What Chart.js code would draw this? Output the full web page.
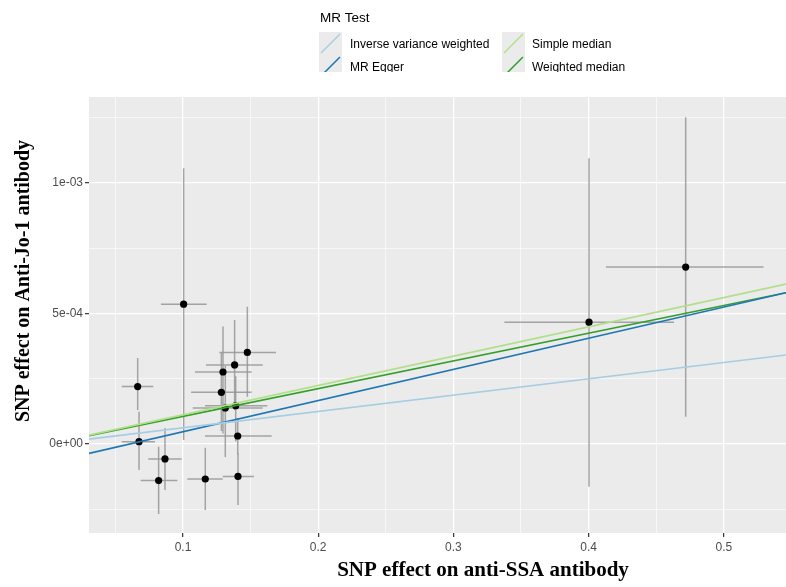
<!DOCTYPE html>
<html>
<head>
<meta charset="utf-8">
<script src="https://cdn.jsdelivr.net/npm/chart.js@4.4.1/dist/chart.umd.min.js"></script>
<style>
  html, body { margin: 0; padding: 0; background: #fff; }
  #wrap { width: 786px; height: 587px; }
</style>
</head>
<body>
<div id="wrap"><canvas id="mr" width="786" height="587"></canvas></div>
<script>
// SNP estimates (x = anti-SSA, y = Anti-Jo-1)
const snpX   = [0.0665, 0.0675, 0.0867, 0.0820, 0.1005, 0.1165, 0.1407, 0.1405, 0.1390, 0.1313, 0.1284, 0.1296, 0.1382, 0.1476, 0.4003, 0.4718];
const snpY   = [2.20e-4, 0.9e-5, -5.7e-5, -1.40e-4, 5.36e-4, -1.34e-4, -1.24e-4, 3.07e-5, 1.47e-4, 1.38e-4, 1.98e-4, 2.76e-4, 3.03e-4, 3.51e-4, 4.67e-4, 6.78e-4];
const snpXlo = [0.0547, 0.0547, 0.0743, 0.0687, 0.0837, 0.1032, 0.1294, 0.1163, 0.1163, 0.1072, 0.1060, 0.1089, 0.1170, 0.1269, 0.3377, 0.4128];
const snpXhi = [0.0780, 0.0793, 0.0990, 0.0958, 0.1175, 0.1294, 0.1525, 0.1656, 0.1624, 0.1590, 0.1508, 0.1508, 0.1590, 0.1688, 0.4632, 0.5294];
const snpYlo = [1.30e-4, -1.00e-4, -1.76e-4, -2.68e-4, 1.5e-5, -2.53e-4, -2.34e-4, -4.0e-5, 1.0e-5, -5.0e-5, 5.0e-5, 4.0e-5, 1.3e-4, 1.81e-4, -1.64e-4, 1.05e-4];
const snpYhi = [3.30e-4, 1.24e-4, 6.1e-5, -1.0e-5, 1.057e-3, -1.4e-5, -3.5e-5, 1.0e-4, 2.6e-4, 3.0e-4, 3.5e-4, 4.5e-4, 4.75e-4, 5.26e-4, 1.095e-3, 1.252e-3];

// MR fits: intercept + slope
const methods    = ["Inverse variance weighted", "MR Egger", "Simple median", "Weighted median"];
const intercepts = [0, -7.2e-5, 0, 0];
const slopes     = [6.25e-4, 1.194e-3, 1.123e-3, 1.062e-3];
const colors     = ["#A6CEE3", "#1F78B4", "#B2DF8A", "#33A02C"];

const xTicks = [0.05, 0.1, 0.15, 0.2, 0.25, 0.3, 0.35, 0.4, 0.45, 0.5];
const xMajor = [0.1, 0.2, 0.3, 0.4, 0.5];
const yTicks = [-2.5e-4, 0, 2.5e-4, 5e-4, 7.5e-4, 1e-3, 1.25e-3];
const yLabels = { "0": "0e+00", "0.0005": "5e-04", "0.001": "1e-03" };

const X_MIN = 0.0305, X_MAX = 0.546;
const Y_MIN = -3.41e-4, Y_MAX = 1.33e-3;

function isMajorX(v) { return xMajor.some(function (m) { return Math.abs(m - v) < 1e-9; }); }
function yLabel(v) {
    const k = String(Math.round(v * 1e6) / 1e6);
    return yLabels[k] || "";
}

const panelBg = {
    id: "panelBg",
    beforeDraw: function (chart) {
        const a = chart.chartArea, ctx = chart.ctx;
        ctx.save();
        ctx.fillStyle = "#EBEBEB";
        ctx.fillRect(a.left, a.top, a.right - a.left, a.bottom - a.top);
        ctx.restore();
    }
};

const errorBars = {
    id: "errorBars",
    beforeDatasetsDraw: function (chart) {
        const xs = chart.scales.x, ys = chart.scales.y, a = chart.chartArea, ctx = chart.ctx;
        ctx.save();
        ctx.beginPath();
        ctx.rect(a.left, a.top, a.right - a.left, a.bottom - a.top);
        ctx.clip();
        ctx.strokeStyle = "rgba(150,150,150,0.85)";
        ctx.lineWidth = 1.5;
        for (let i = 0; i < snpX.length; i++) {
            const px = xs.getPixelForValue(snpX[i]);
            const py = ys.getPixelForValue(snpY[i]);
            ctx.beginPath();
            ctx.moveTo(px, ys.getPixelForValue(snpYlo[i]));
            ctx.lineTo(px, ys.getPixelForValue(snpYhi[i]));
            ctx.moveTo(xs.getPixelForValue(snpXlo[i]), py);
            ctx.lineTo(xs.getPixelForValue(snpXhi[i]), py);
            ctx.stroke();
        }
        ctx.restore();
    }
};

const annotations = {
    id: "annotations",
    afterDraw: function (chart) {
        const ctx = chart.ctx;
        ctx.save();
        // axis titles
        ctx.fillStyle = "#000";
        ctx.textAlign = "center";
        ctx.textBaseline = "middle";
        ctx.font = "bold 21px 'Liberation Serif', 'Times New Roman', serif";
        ctx.fillText("SNP effect on anti-SSA antibody", 483, 571);
        ctx.save();
        ctx.translate(24, 281);
        ctx.rotate(-Math.PI / 2);
        ctx.font = "bold 20px 'Liberation Serif', 'Times New Roman', serif";
        ctx.fillText("SNP effect on Anti-Jo-1 antibody", 0, 0);
        ctx.restore();

        // legend (bottom row is cut off as in the source)
        ctx.textAlign = "left";
        ctx.textBaseline = "alphabetic";
        ctx.font = "13.5px 'Liberation Sans', Arial, sans-serif";
        ctx.fillText("MR Test", 320, 22);
        ctx.beginPath();
        ctx.rect(0, 0, 786, 72);
        ctx.clip();
        ctx.font = "12px 'Liberation Sans', Arial, sans-serif";
        const cols = [[319, 350], [502, 532]];
        const rows = [32, 55];
        const order = [[0, 0, 0], [1, 0, 1], [2, 1, 0], [3, 1, 1]];
        order.forEach(function (o) {
            const bx = cols[o[1]][0], tx = cols[o[1]][1], by = rows[o[2]];
            ctx.fillStyle = "#EBEBEB";
            ctx.fillRect(bx, by, 23, 23);
            ctx.strokeStyle = colors[o[0]];
            ctx.lineWidth = 1.5;
            ctx.beginPath();
            ctx.moveTo(bx + 2, by + 21);
            ctx.lineTo(bx + 21, by + 2);
            ctx.stroke();
            ctx.fillStyle = "#000";
            ctx.fillText(methods[o[0]], tx, by + 16);
        });
        ctx.restore();
    }
};

const datasets = methods.map(function (m, i) {
    return {
        type: "line",
        label: m,
        data: [
            { x: X_MIN, y: intercepts[i] + slopes[i] * X_MIN },
            { x: X_MAX, y: intercepts[i] + slopes[i] * X_MAX }
        ],
        borderColor: colors[i],
        borderWidth: 1.7,
        pointRadius: 0,
        fill: false,
        order: 1
    };
});
datasets.push({
    type: "scatter",
    label: "SNP",
    data: snpX.map(function (x, i) { return { x: x, y: snpY[i] }; }),
    backgroundColor: "#000",
    borderColor: "#000",
    pointRadius: 3.6,
    pointBorderWidth: 0,
    order: 2
});

new Chart(document.getElementById("mr").getContext("2d"), {
    type: "scatter",
    data: { datasets: datasets },
    options: {
        responsive: false,
        animation: false,
        layout: { autoPadding: false, padding: { top: 97, right: 0, left: 0, bottom: 0 } },
        plugins: { legend: { display: false }, tooltip: { enabled: false } },
        scales: {
            x: {
                type: "linear",
                min: X_MIN, max: X_MAX,
                afterBuildTicks: function (s) { s.ticks = xTicks.map(function (v) { return { value: v }; }); },
                afterFit: function (s) { s.height = 54; },
                border: { display: false },
                grid: {
                    color: "#FFFFFF",
                    lineWidth: function (c) { return isMajorX(c.tick.value) ? 1.3 : 0.6; },
                    tickColor: function (c) { return isMajorX(c.tick.value) ? "#333" : "rgba(0,0,0,0)"; },
                    tickLength: 4,
                    tickWidth: 1.2
                },
                ticks: {
                    autoSkip: false,
                    maxRotation: 0,
                    padding: 3,
                    color: "#4D4D4D",
                    font: { family: "'Liberation Sans', Arial, sans-serif", size: 12 },
                    callback: function (v) { return isMajorX(v) ? String(Math.round(v * 10) / 10) : ""; }
                }
            },
            y: {
                type: "linear",
                min: Y_MIN, max: Y_MAX,
                afterBuildTicks: function (s) { s.ticks = yTicks.map(function (v) { return { value: v }; }); },
                afterFit: function (s) { s.width = 89; },
                border: { display: false },
                grid: {
                    color: "#FFFFFF",
                    lineWidth: function (c) { return yLabel(c.tick.value) ? 1.3 : 0.6; },
                    tickColor: function (c) { return yLabel(c.tick.value) ? "#333" : "rgba(0,0,0,0)"; },
                    tickLength: 4,
                    tickWidth: 1.2
                },
                ticks: {
                    autoSkip: false,
                    padding: 2,
                    color: "#4D4D4D",
                    font: { family: "'Liberation Sans', Arial, sans-serif", size: 12 },
                    callback: function (v) { return yLabel(v); }
                }
            }
        }
    },
    plugins: [panelBg, errorBars, annotations]
});
</script>
</body>
</html>
